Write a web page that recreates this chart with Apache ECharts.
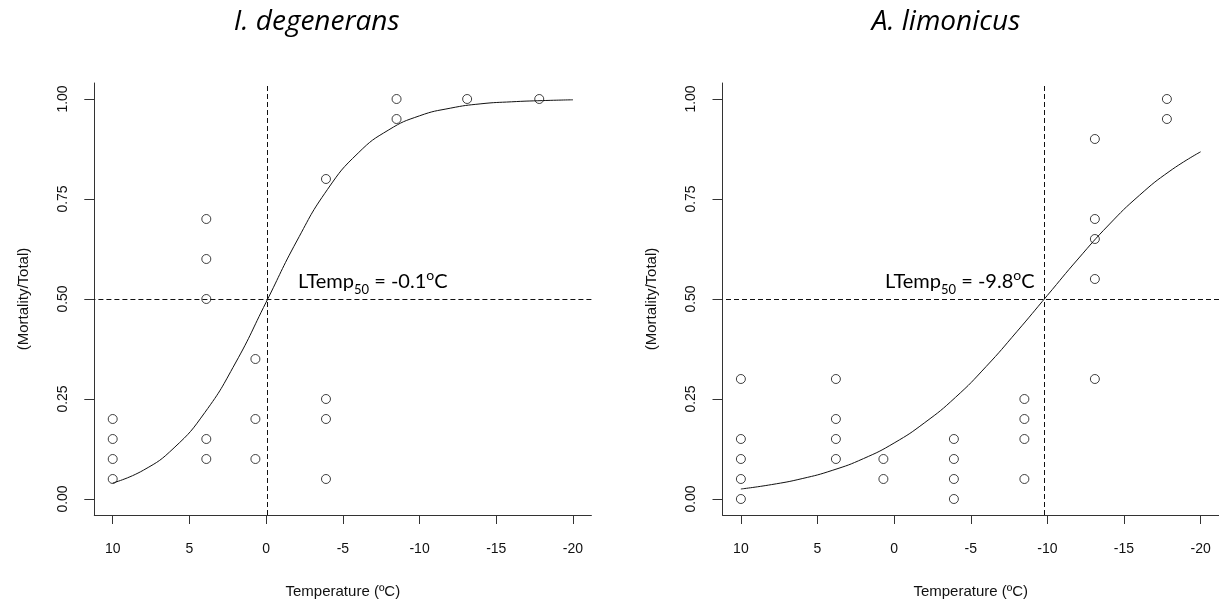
<!DOCTYPE html>
<html>
<head>
<meta charset="utf-8">
<script src="https://cdn.jsdelivr.net/npm/echarts@6/dist/echarts.min.js"></script>
<style>
html, body { margin: 0; padding: 0; background: #fff; }
#main { width: 1219px; height: 604px; }
</style>
</head>
<body>
<div id="main"></div>
<script>
// axis ticks, temperature runs warm (left) to cold (right)
var tempTicks = [10, 5, 0, -5, -10, -15, -20];
var propTicks = [0, 0.25, 0.5, 0.75, 1];
var propTickLabels = ['0.00', '0.25', '0.50', '0.75', '1.00'];

// I. degenerans: observed mortality
var degTemp = [10, 10, 10, 10, 3.9, 3.9, 3.9, 3.9, 3.9, 0.7, 0.7, 0.7, -3.9, -3.9, -3.9, -3.9, -8.5, -8.5, -13.1, -17.8];
var degMort = [0.05, 0.10, 0.15, 0.20, 0.10, 0.15, 0.50, 0.60, 0.70, 0.10, 0.20, 0.35, 0.05, 0.20, 0.25, 0.80, 0.95, 1.00, 1.00, 1.00];
var degLT50 = -0.1;

// A. limonicus: observed mortality
var limTemp = [10, 10, 10, 10, 10, 3.8, 3.8, 3.8, 3.8, 0.7, 0.7, -3.9, -3.9, -3.9, -3.9, -8.5, -8.5, -8.5, -8.5, -13.1, -13.1, -13.1, -13.1, -13.1, -17.8, -17.8];
var limMort = [0, 0.05, 0.10, 0.15, 0.30, 0.10, 0.15, 0.20, 0.30, 0.05, 0.10, 0, 0.05, 0.10, 0.15, 0.05, 0.15, 0.20, 0.25, 0.30, 0.55, 0.65, 0.70, 0.90, 0.95, 1.00];
var limLT50 = -9.8;

// fitted curves
var curveTemp = [10, 8, 6, 4, 2, 0, -2, -4, -6, -8, -10, -12, -14, -16, -18, -20];
var degCurve = [0.040, 0.072, 0.128, 0.216, 0.340, 0.492, 0.645, 0.774, 0.865, 0.923, 0.958, 0.977, 0.988, 0.993, 0.996, 0.998];
var limCurve = [0.025, 0.036, 0.051, 0.072, 0.101, 0.140, 0.191, 0.254, 0.331, 0.418, 0.509, 0.600, 0.685, 0.759, 0.820, 0.868];

var axisColor = '#333';
var labelFont = 'Liberation Sans';

function zip(a, b) {
    return a.map(function (v, i) { return [v, b[i]]; });
}

function xAxis(idx) {
    return {
        type: 'value', gridIndex: idx, inverse: true, min: -21.2, max: 11.2,
        name: 'Temperature (\u00baC)', nameLocation: 'middle', nameGap: 69,
        nameTextStyle: { fontFamily: labelFont, fontSize: 15, color: '#111' },
        axisLine: { onZero: false, lineStyle: { color: axisColor, width: 1 } },
        axisTick: { length: 9, customValues: tempTicks, lineStyle: { color: axisColor } },
        axisLabel: { customValues: tempTicks, margin: 27, fontFamily: labelFont, fontSize: 14, color: '#111' },
        splitLine: { show: false }
    };
}

function yAxis(idx) {
    return {
        type: 'value', gridIndex: idx, min: -0.04, max: 1.04,
        name: '(Mortality/Total)', nameLocation: 'middle', nameGap: 63,
        nameTextStyle: { fontFamily: labelFont, fontSize: 15, color: '#111' },
        axisLine: { onZero: false, lineStyle: { color: axisColor, width: 1 } },
        axisTick: { length: 10, customValues: propTicks, lineStyle: { color: axisColor } },
        axisLabel: {
            customValues: propTicks, rotate: 90, margin: 24,
            fontFamily: labelFont, fontSize: 14, color: '#111',
            formatter: function (v) { return propTickLabels[propTicks.indexOf(v)]; }
        },
        splitLine: { show: false }
    };
}

function pointSeries(idx, xs, ys, lt50) {
    return {
        type: 'scatter', xAxisIndex: idx, yAxisIndex: idx,
        data: zip(xs, ys), symbol: 'circle', symbolSize: 9,
        itemStyle: { color: 'rgba(0,0,0,0)', borderColor: '#111', borderWidth: 1 },
        silent: true,
        markLine: {
            silent: true, symbol: ['none', 'none'], label: { show: false },
            lineStyle: { color: '#111', type: [5, 3], width: 1 },
            data: [{ xAxis: lt50 }, { yAxis: 0.5 }]
        }
    };
}

function curveSeries(idx, ys) {
    return {
        type: 'line', xAxisIndex: idx, yAxisIndex: idx,
        data: zip(curveTemp, ys), smooth: true,
        showSymbol: false, silent: true,
        lineStyle: { color: '#111', width: 1 }
    };
}

function lt50Text(x, value) {
    return {
        type: 'text', x: x, y: 268,
        style: {
            text: '{m|LTemp}{s|50}{m| = ' + value + '}{o|o}{m|C}',
            align: 'left', verticalAlign: 'top',
            rich: {
                m: { fontFamily: 'Lato', fontSize: 20, lineHeight: 28, fill: '#000' },
                s: { fontFamily: 'Lato', fontSize: 13, lineHeight: 13, verticalAlign: 'bottom', fill: '#000' },
                o: { fontFamily: 'Lato', fontSize: 14, lineHeight: 17, verticalAlign: 'top', fill: '#000' }
            }
        }
    };
}

function titleText(x, text) {
    return {
        type: 'text', x: x, y: 22,
        style: {
            text: text, align: 'center', verticalAlign: 'middle',
            fontFamily: 'Open Sans', fontStyle: 'italic', fontSize: 28, fill: '#000'
        }
    };
}

var chart = echarts.init(document.getElementById('main'));
chart.setOption({
    backgroundColor: '#fff',
    animation: false,
    grid: [
        { left: 94.3, top: 83, width: 497.1, height: 433 },
        { left: 722.5, top: 83, width: 498.7, height: 433 }
    ],
    xAxis: [xAxis(0), xAxis(1)],
    yAxis: [yAxis(0), yAxis(1)],
    series: [
        pointSeries(0, degTemp, degMort, degLT50),
        curveSeries(0, degCurve),
        pointSeries(1, limTemp, limMort, limLT50),
        curveSeries(1, limCurve)
    ],
    graphic: [
        titleText(316.7, 'I. degenerans'),
        titleText(946, 'A. limonicus'),
        lt50Text(298, degLT50),
        lt50Text(885, limLT50)
    ]
});
</script>
</body>
</html>
